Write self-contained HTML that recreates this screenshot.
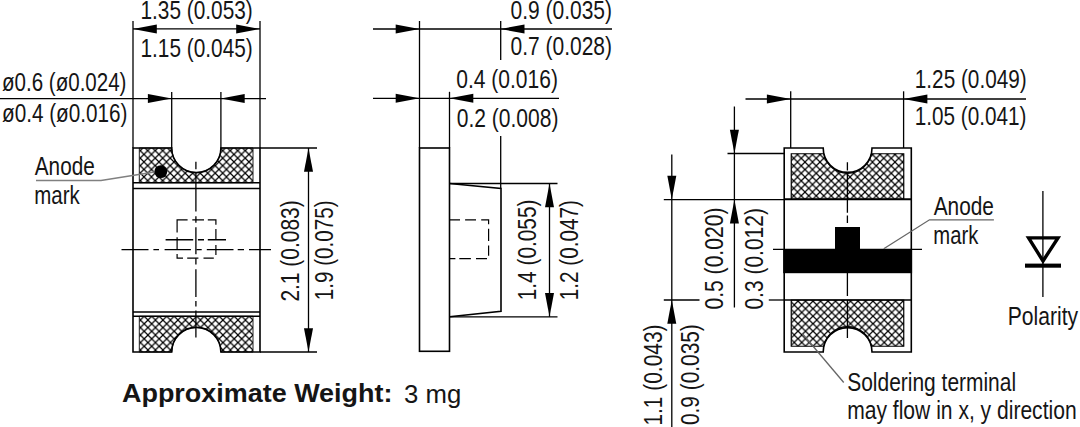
<!DOCTYPE html>
<html><head><meta charset="utf-8"><style>
html,body{margin:0;padding:0;background:#fff;}
svg{display:block;}
text{font-family:"Liberation Sans", sans-serif;fill:#151515;}
</style></head><body>
<svg width="1080" height="427" viewBox="0 0 1080 427">
<defs>
<pattern id="h1" patternUnits="userSpaceOnUse" width="7.5" height="7.5" x="226.44" y="154.39"><rect width="7.5" height="7.5" fill="#fff"/><path d="M-1,-1 L8.5,8.5 M8.5,-1 L-1,8.5" stroke="#000" stroke-width="1.2"/></pattern>
<pattern id="h2" patternUnits="userSpaceOnUse" width="7.5" height="7.5" x="147.93" y="320.05"><rect width="7.5" height="7.5" fill="#fff"/><path d="M-1,-1 L8.5,8.5 M8.5,-1 L-1,8.5" stroke="#000" stroke-width="1.2"/></pattern>
<pattern id="h3" patternUnits="userSpaceOnUse" width="7.5" height="7.5" x="879.98" y="162.05"><rect width="7.5" height="7.5" fill="#fff"/><path d="M-1,-1 L8.5,8.5 M8.5,-1 L-1,8.5" stroke="#000" stroke-width="1.2"/></pattern>
<pattern id="h4" patternUnits="userSpaceOnUse" width="7.5" height="7.5" x="801.74" y="304.93"><rect width="7.5" height="7.5" fill="#fff"/><path d="M-1,-1 L8.5,8.5 M8.5,-1 L-1,8.5" stroke="#000" stroke-width="1.2"/></pattern>
</defs>
<rect width="1080" height="427" fill="#fff"/>
<path d="M139.3,148.0 H171.70000000000002 A24.6,24.6 0 0 0 220.9,148.0 H253.0 V182.7 H139.3 Z" fill="url(#h1)" stroke="#222" stroke-width="1.0"/>
<path d="M139.3,316.3 H253.0 V352.0 H220.9 A24.6,24.6 0 0 0 171.70000000000002,352.0 H139.3 Z" fill="url(#h2)" stroke="#222" stroke-width="1.0"/>
<path d="M133.0,148.0 H171.70000000000002 A24.6,24.6 0 0 0 220.9,148.0 H260.0 V352.0 H220.9 A24.6,24.6 0 0 0 171.70000000000002,352.0 H133.0 Z" fill="none" stroke="#000" stroke-width="1.6"/>
<line x1="133.0" y1="182.7" x2="260.0" y2="182.7" stroke="#000" stroke-width="1.6" />
<line x1="133.0" y1="188.5" x2="260.0" y2="188.5" stroke="#000" stroke-width="1.6" />
<line x1="133.0" y1="312.0" x2="260.0" y2="312.0" stroke="#000" stroke-width="1.6" />
<line x1="133.0" y1="316.3" x2="260.0" y2="316.3" stroke="#000" stroke-width="1.6" />
<line x1="133.0" y1="21" x2="133.0" y2="148.0" stroke="#000" stroke-width="1.3" />
<line x1="260.0" y1="21" x2="260.0" y2="148.0" stroke="#000" stroke-width="1.3" />
<line x1="171.70000000000002" y1="92" x2="171.70000000000002" y2="148.0" stroke="#000" stroke-width="1.3" />
<line x1="220.9" y1="92" x2="220.9" y2="148.0" stroke="#000" stroke-width="1.3" />
<line x1="260.0" y1="148.0" x2="317" y2="148.0" stroke="#000" stroke-width="1.3" />
<line x1="260.0" y1="352.0" x2="317" y2="352.0" stroke="#000" stroke-width="1.3" />
<line x1="133.0" y1="28.9" x2="260.0" y2="28.9" stroke="#000" stroke-width="1.3" />
<polygon points="133.00,28.90 156.80,24.40 156.80,33.40" fill="#000"/>
<polygon points="260.00,28.90 236.20,24.40 236.20,33.40" fill="#000"/>
<line x1="0" y1="98.6" x2="266" y2="98.6" stroke="#000" stroke-width="1.3" />
<polygon points="171.70,98.60 147.90,94.10 147.90,103.10" fill="#000"/>
<polygon points="220.90,98.60 244.70,94.10 244.70,103.10" fill="#000"/>
<line x1="308.5" y1="148.0" x2="308.5" y2="352.0" stroke="#000" stroke-width="1.3" />
<polygon points="308.50,148.00 304.00,171.80 313.00,171.80" fill="#000"/>
<polygon points="308.50,352.00 304.00,328.20 313.00,328.20" fill="#000"/>
<path d="M195.9,161.7V169.3 M195.9,173V211.6 M195.9,216.2V222.8 M195.9,227.2V254.3 M195.9,258.2V264.6 M195.9,269.3V297 M195.9,301.1V306.4 M195.9,310.5V337.4" stroke="#000" stroke-width="1.3" fill="none"/>
<path d="M121.5,249.7H148.5 M153.4,249.7H159 M164.6,249.7H190.9 M196.5,249.7H201.7 M206.8,249.7H233.5 M237.7,249.7H244 M249,249.7H271" stroke="#000" stroke-width="1.3" fill="none"/>
<path d="M165.6,239.75H193.2 M197.9,239.75H204 M207.8,239.75H226" stroke="#000" stroke-width="1.3" fill="none"/>
<path d="M177.1,221.4V219.8H187.6 M192.3,219.8H204 M207.8,219.8H215.9V224.7 M215.9,228.9V239.6 M215.9,245.1V255 M213.8,258.2H203.5 M198.4,258.2H187.2 M183,258.2H177.1V254 M177.1,249.8V237.2 M177.1,232.6V221.4" stroke="#000" stroke-width="1.2" fill="none"/>
<circle cx="160.8" cy="171.6" r="6.4" fill="#000"/>
<polyline points="36,180.6 101,180.6 154.5,172" fill="none" stroke="#808080" stroke-width="1.5"/>
<rect x="419.5" y="148" width="30" height="203.3" fill="none" stroke="#000" stroke-width="1.6"/>
<polyline points="449.5,183.5 501,188.5 501,311.3 449.5,316.8" fill="none" stroke="#000" stroke-width="1.6"/>
<line x1="449.5" y1="183.5" x2="557.5" y2="183.5" stroke="#000" stroke-width="1.3" />
<line x1="449.5" y1="316.8" x2="557.5" y2="316.8" stroke="#000" stroke-width="1.3" />
<line x1="549.5" y1="183.5" x2="549.5" y2="316.8" stroke="#000" stroke-width="1.3" />
<polygon points="549.50,183.50 545.00,207.30 554.00,207.30" fill="#000"/>
<polygon points="549.50,316.80 545.00,293.00 554.00,293.00" fill="#000"/>
<path d="M449.7,219.9H460 M465.1,219.9H476 M481.2,219.9H488.6V224.2 M488.6,228.7V240.9 M488.6,245.4V255.7 M487,258.6H476 M470.9,258.6H459.3 M455.4,258.6H449.7" stroke="#000" stroke-width="1.2" fill="none"/>
<line x1="419.5" y1="21" x2="419.5" y2="148" stroke="#000" stroke-width="1.3" />
<line x1="449.5" y1="91.8" x2="449.5" y2="148" stroke="#000" stroke-width="1.3" />
<line x1="500.7" y1="21" x2="500.7" y2="60" stroke="#000" stroke-width="1.3" />
<line x1="500.7" y1="136" x2="500.7" y2="188.5" stroke="#000" stroke-width="1.3" />
<line x1="373" y1="29" x2="612" y2="29" stroke="#000" stroke-width="1.3" />
<polygon points="419.50,29.00 395.70,24.50 395.70,33.50" fill="#000"/>
<polygon points="500.70,29.00 524.50,24.50 524.50,33.50" fill="#000"/>
<line x1="373" y1="98.3" x2="559" y2="98.3" stroke="#000" stroke-width="1.3" />
<polygon points="419.50,98.30 395.70,93.80 395.70,102.80" fill="#000"/>
<polygon points="449.50,98.30 473.30,93.80 473.30,102.80" fill="#000"/>
<path d="M791.25,199.3 V153.75 H823.69 A24.4,24.4 0 0 0 871.51,153.75 H903.75 V199.3 Z" fill="url(#h3)" stroke="#000" stroke-width="1.2"/>
<path d="M791.25,300 V346.25 H823.69 A24.4,24.4 0 0 1 871.51,346.25 H903.75 V300 Z" fill="url(#h4)" stroke="#000" stroke-width="1.2"/>
<path d="M784.2,148.0 H823.2 A24.4,24.4 0 0 0 872.0,148.0 H911.3 V352.0 H872.0 A24.4,24.4 0 0 0 823.2,352.0 H784.2 Z" fill="none" stroke="#000" stroke-width="1.6"/>
<line x1="784.2" y1="199.2" x2="911.3" y2="199.2" stroke="#000" stroke-width="1.9" />
<line x1="784.2" y1="300" x2="911.3" y2="300" stroke="#000" stroke-width="1.6" />
<rect x="783.2" y="249.2" width="128.9" height="24" fill="#000"/>
<rect x="835" y="227" width="25" height="23" fill="#000"/>
<line x1="773" y1="249.3" x2="922" y2="249.3" stroke="#000" stroke-width="1.3" />
<path d="M847.4,162.2V170.6 M847.4,173.4V212.7 M847.4,215.5V223 M847.4,272.5V296 M847.4,300V338" stroke="#000" stroke-width="1.3" fill="none"/>
<line x1="790.7" y1="91.3" x2="790.7" y2="148.0" stroke="#000" stroke-width="1.3" />
<line x1="903.6" y1="91.3" x2="903.6" y2="148.0" stroke="#000" stroke-width="1.3" />
<line x1="745.5" y1="99" x2="1026" y2="99" stroke="#000" stroke-width="1.3" />
<polygon points="790.70,99.00 766.90,94.50 766.90,103.50" fill="#000"/>
<polygon points="903.60,99.00 927.40,94.50 927.40,103.50" fill="#000"/>
<line x1="727.5" y1="153.5" x2="784.2" y2="153.5" stroke="#000" stroke-width="1.3" />
<line x1="663.8" y1="199.6" x2="784.2" y2="199.6" stroke="#000" stroke-width="1.3" />
<line x1="663.8" y1="300" x2="699.5" y2="300" stroke="#000" stroke-width="1.3" />
<line x1="768.8" y1="300" x2="784.2" y2="300" stroke="#000" stroke-width="1.3" />
<line x1="734.4" y1="106.5" x2="734.4" y2="307.5" stroke="#000" stroke-width="1.3" />
<polygon points="734.40,153.50 729.90,129.70 738.90,129.70" fill="#000"/>
<polygon points="734.40,199.60 729.90,223.40 738.90,223.40" fill="#000"/>
<line x1="671.8" y1="154.6" x2="671.8" y2="427" stroke="#000" stroke-width="1.3" />
<polygon points="671.80,199.60 667.30,175.80 676.30,175.80" fill="#000"/>
<polygon points="671.80,300.00 667.30,323.80 676.30,323.80" fill="#000"/>
<polyline points="883.75,248.8 929.5,219.8 993.9,219.8" fill="none" stroke="#666" stroke-width="1.3"/>
<line x1="802.5" y1="333.75" x2="843.75" y2="382.5" stroke="#666" stroke-width="1.3" />
<line x1="1042.9" y1="191" x2="1042.9" y2="297" stroke="#000" stroke-width="1.3" />
<polygon points="1028.6,237.9 1058,237.9 1043,261" fill="none" stroke="#000" stroke-width="3.4" stroke-linejoin="miter"/>
<rect x="1025" y="263.6" width="36" height="4.1" fill="#000"/>
<text transform="translate(140.50,18.50) scale(0.8012,1)" font-weight="normal" font-size="26">1.35 (0.053)</text>
<text transform="translate(140.50,56.80) scale(0.8012,1)" font-weight="normal" font-size="26">1.15 (0.045)</text>
<text transform="translate(2.00,90.60) scale(0.7906,1)" font-weight="normal" font-size="26">ø0.6 (ø0.024)</text>
<text transform="translate(2.00,122.20) scale(0.7969,1)" font-weight="normal" font-size="26">ø0.4 (ø0.016)</text>
<text transform="translate(34.75,175.00) scale(0.7983,1)" font-weight="normal" font-size="26">Anode</text>
<text transform="translate(34.21,204.00) scale(0.7875,1)" font-weight="normal" font-size="26">mark</text>
<text transform="translate(299.30,301.61) rotate(-90) scale(0.8059,1)" font-weight="normal" font-size="26">2.1 (0.083)</text>
<text transform="translate(333.30,300.29) rotate(-90) scale(0.7938,1)" font-weight="normal" font-size="26">1.9 (0.075)</text>
<text transform="translate(510.49,19.20) scale(0.8075,1)" font-weight="normal" font-size="26">0.9 (0.035)</text>
<text transform="translate(510.49,54.50) scale(0.8075,1)" font-weight="normal" font-size="26">0.7 (0.028)</text>
<text transform="translate(456.19,87.50) scale(0.8099,1)" font-weight="normal" font-size="26">0.4 (0.016)</text>
<text transform="translate(456.69,127.00) scale(0.8099,1)" font-weight="normal" font-size="26">0.2 (0.008)</text>
<text transform="translate(535.90,300.30) rotate(-90) scale(0.8018,1)" font-weight="normal" font-size="26">1.4 (0.055)</text>
<text transform="translate(578.00,300.30) rotate(-90) scale(0.7978,1)" font-weight="normal" font-size="26">1.2 (0.047)</text>
<text transform="translate(914.80,87.60) scale(0.7983,1)" font-weight="normal" font-size="26">1.25 (0.049)</text>
<text transform="translate(914.80,125.20) scale(0.7968,1)" font-weight="normal" font-size="26">1.05 (0.041)</text>
<text transform="translate(723.30,309.61) rotate(-90) scale(0.8123,1)" font-weight="normal" font-size="26">0.5 (0.020)</text>
<text transform="translate(763.40,309.61) rotate(-90) scale(0.8083,1)" font-weight="normal" font-size="26">0.3 (0.012)</text>
<text transform="translate(661.90,425.60) rotate(-90) scale(0.8043,1)" font-weight="normal" font-size="26">1.1 (0.043)</text>
<text transform="translate(698.50,425.10) rotate(-90) scale(0.8027,1)" font-weight="normal" font-size="26">0.9 (0.035)</text>
<text transform="translate(933.70,215.00) scale(0.8016,1)" font-weight="normal" font-size="26">Anode</text>
<text transform="translate(933.32,244.00) scale(0.7789,1)" font-weight="normal" font-size="26">mark</text>
<text transform="translate(1007.71,325.30) scale(0.8453,1)" font-weight="normal" font-size="25">Polarity</text>
<text transform="translate(847.19,391.30) scale(0.8062,1)" font-weight="normal" font-size="26">Soldering terminal</text>
<text transform="translate(847.19,419.40) scale(0.8103,1)" font-weight="normal" font-size="26">may flow in x, y direction</text>
<text transform="translate(122.00,401.50) scale(1.0780,1)" font-weight="bold" font-size="25">Approximate Weight:</text>
<text transform="translate(404.00,403.20) scale(1.0297,1)" font-weight="normal" font-size="25">3 mg</text>
</svg>
</body></html>
